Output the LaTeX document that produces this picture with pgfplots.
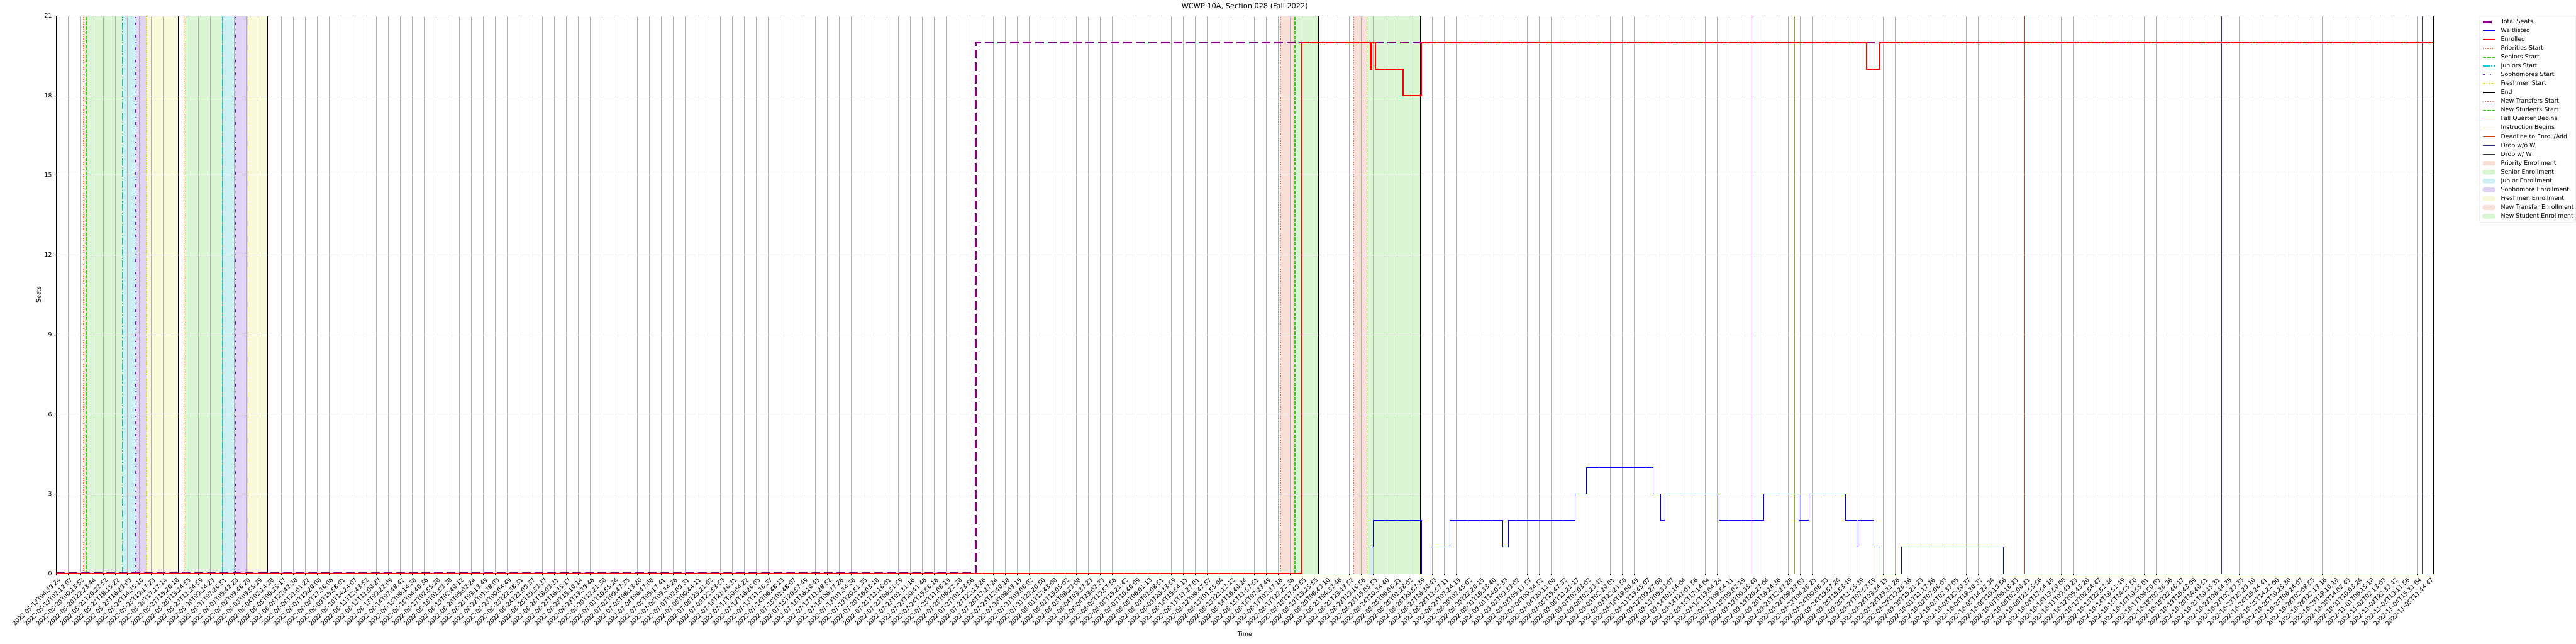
\documentclass[border=0pt]{standalone}
\usepackage{fontspec}
\setmainfont{DejaVu Sans}
\usepackage{pgfplots}
\pgfplotsset{compat=1.18}
\definecolor{cseat}{HTML}{800080}
\definecolor{cwait}{HTML}{0000FF}
\definecolor{cenr}{HTML}{FF0000}
\definecolor{cprio}{HTML}{F26B3A}
\definecolor{csen}{HTML}{33CC11}
\definecolor{cjun}{HTML}{00C8D8}
\definecolor{csoph}{HTML}{6A1FD0}
\definecolor{cfresh}{HTML}{E0E030}
\definecolor{cfall}{HTML}{E0109A}
\definecolor{cinstr}{HTML}{8DB010}
\definecolor{cdead}{HTML}{D4401C}
\definecolor{cdropa}{HTML}{2E2A8A}
\definecolor{cdropb}{HTML}{2F3B5A}
\definecolor{fprio}{HTML}{F8E0D8}
\definecolor{fsen}{HTML}{D9F5D2}
\definecolor{fjun}{HTML}{CDF1F3}
\definecolor{fsoph}{HTML}{DFD2F4}
\definecolor{ffresh}{HTML}{F7F9D9}
\definecolor{gridgray}{HTML}{B0B0B0}
\pgfplotsset{
  lprio/.style={cprio, line width=1.5pt, dash pattern=on 1.5pt off 2.5pt},
  lsen/.style={csen, line width=1.5pt, dash pattern=on 5.5pt off 2.4pt},
  ljun/.style={cjun, line width=1.8pt, dash pattern=on 11.5pt off 2.9pt on 1.8pt off 2.9pt},
  lsoph/.style={csoph, line width=1.5pt, dash pattern=on 4.5pt off 7.5pt on 1.5pt off 7.5pt},
  lfresh/.style={cfresh, line width=1.5pt, dash pattern=on 4.5pt off 2pt on 1.5pt off 2pt on 1.5pt off 2pt},
  lend/.style={black, line width=1.5pt},
  lfall/.style={cfall, line width=1.5pt},
  linstr/.style={cinstr, line width=1.5pt},
  ldead/.style={cdead, line width=1.5pt},
  ldropa/.style={cdropa, line width=1.5pt},
  ldropb/.style={cdropb, line width=1.5pt},
  myarea/.style={legend image code/.code={\draw[##1] (0pt,-3.6pt) rectangle (21pt,3.6pt); \path (28.5pt,0pt);}},
}
\newcommand{\vl}[2]{\addplot[#1, forget plot] coordinates {(#2,0) (#2,21)};}
\newcommand{\band}[3]{\addplot[on layer=axis background, fill=#1, draw=none, forget plot] coordinates {(#2,21) (#3,21)} \closedcycle;}
\begin{document}
\begin{tikzpicture}
\path (0,0) rectangle (4336.2pt,1084.05pt);
\begin{axis}[
  set layers,
  at={(94.67pt,117.8pt)}, anchor=south west,
  scale only axis, width=4004.5pt, height=939.5pt,
  xmin=0, xmax=200.35, ymin=0, ymax=21,
  xtick pos=bottom, ytick pos=left,
  xtick={0,...,200},
  xticklabels={2022-05-18T04:39:24,2022-05-19T02:12:07,2022-05-20T00:13:52,2022-05-20T22:23:44,2022-05-21T20:22:52,2022-05-22T18:15:22,2022-05-23T16:29:03,2022-05-24T14:35:10,2022-05-25T19:17:23,2022-05-26T17:17:14,2022-05-27T15:20:18,2022-05-28T13:24:55,2022-05-29T11:24:59,2022-05-30T09:24:23,2022-05-31T07:26:51,2022-06-01T05:42:23,2022-06-02T03:46:20,2022-06-03T03:55:29,2022-06-04T02:14:28,2022-06-05T00:25:17,2022-06-05T22:42:38,2022-06-06T21:01:22,2022-06-07T19:20:08,2022-06-08T17:36:06,2022-06-09T15:58:01,2022-06-10T14:24:07,2022-06-11T12:43:52,2022-06-12T11:00:27,2022-06-13T09:22:09,2022-06-14T07:48:42,2022-06-15T06:14:38,2022-06-16T04:40:36,2022-06-17T02:55:28,2022-06-18T01:59:28,2022-06-19T02:40:12,2022-06-20T05:02:24,2022-06-21T03:13:49,2022-06-22T01:38:03,2022-06-23T00:04:49,2022-06-23T22:38:31,2022-06-24T21:09:37,2022-06-25T19:39:37,2022-06-26T18:09:31,2022-06-27T16:35:17,2022-06-28T15:10:14,2022-06-29T13:39:46,2022-06-30T12:21:38,2022-07-01T10:55:24,2022-07-02T09:47:35,2022-07-03T08:13:20,2022-07-04T06:47:08,2022-07-05T05:17:41,2022-07-06T03:34:26,2022-07-07T02:09:31,2022-07-08T00:44:11,2022-07-08T23:21:02,2022-07-09T22:53:53,2022-07-10T21:26:31,2022-07-11T20:04:22,2022-07-12T16:26:05,2022-07-13T11:36:37,2022-07-14T06:48:13,2022-07-15T01:48:07,2022-07-15T20:57:49,2022-07-16T16:10:45,2022-07-17T11:28:52,2022-07-18T06:37:26,2022-07-19T01:34:38,2022-07-19T20:51:35,2022-07-20T16:03:18,2022-07-21T11:16:01,2022-07-22T06:31:59,2022-07-23T01:31:16,2022-07-23T20:41:46,2022-07-24T15:56:16,2022-07-25T11:08:19,2022-07-26T06:22:28,2022-07-27T01:23:56,2022-07-27T22:13:26,2022-07-28T17:27:24,2022-07-29T12:40:18,2022-07-30T08:03:19,2022-07-31T03:06:02,2022-07-31T22:20:50,2022-08-01T17:43:08,2022-08-02T13:05:02,2022-08-03T08:29:08,2022-08-04T03:37:23,2022-08-04T23:02:33,2022-08-05T19:57:56,2022-08-06T15:21:42,2022-08-07T10:40:09,2022-08-08T06:01:13,2022-08-09T01:08:51,2022-08-09T20:33:59,2022-08-10T15:54:15,2022-08-11T11:27:01,2022-08-12T06:47:57,2022-08-13T01:55:04,2022-08-13T21:12:12,2022-08-14T16:40:24,2022-08-15T11:57:51,2022-08-16T07:23:49,2022-08-17T02:37:16,2022-08-17T22:22:36,2022-08-18T17:49:55,2022-08-19T13:25:55,2022-08-20T08:49:10,2022-08-21T04:32:46,2022-08-21T23:43:52,2022-08-22T19:16:56,2022-08-23T15:05:55,2022-08-24T10:34:40,2022-08-25T06:06:21,2022-08-26T01:28:02,2022-08-26T20:57:39,2022-08-27T16:30:43,2022-08-28T11:57:11,2022-08-29T07:24:19,2022-08-30T02:45:02,2022-08-30T22:20:15,2022-08-31T18:33:40,2022-09-01T14:02:33,2022-09-02T09:39:02,2022-09-03T05:11:57,2022-09-04T00:34:52,2022-09-04T20:11:00,2022-09-05T15:47:32,2022-09-06T11:21:17,2022-09-07T07:03:02,2022-09-08T02:29:42,2022-09-09T02:20:01,2022-09-09T22:21:50,2022-09-10T18:00:49,2022-09-11T13:45:07,2022-09-12T09:27:08,2022-09-13T05:39:07,2022-09-14T01:14:04,2022-09-14T21:01:56,2022-09-15T17:14:04,2022-09-16T13:04:24,2022-09-17T08:54:11,2022-09-18T05:02:19,2022-09-19T00:35:48,2022-09-19T20:27:04,2022-09-20T16:24:36,2022-09-21T12:22:28,2022-09-22T08:22:03,2022-09-23T04:28:25,2022-09-24T00:08:33,2022-09-24T19:57:24,2022-09-25T15:53:49,2022-09-26T11:55:39,2022-09-27T07:52:59,2022-09-28T03:34:15,2022-09-28T23:31:26,2022-09-29T19:26:16,2022-09-30T15:21:23,2022-10-01T11:17:26,2022-10-02T07:06:03,2022-10-03T02:39:05,2022-10-03T22:30:37,2022-10-04T18:30:32,2022-10-05T14:22:34,2022-10-06T10:19:56,2022-10-07T06:18:23,2022-10-08T02:00:21,2022-10-08T21:55:56,2022-10-09T17:54:18,2022-10-10T13:50:08,2022-10-11T09:49:23,2022-10-12T05:43:20,2022-10-13T02:54:47,2022-10-13T22:52:44,2022-10-14T18:51:49,2022-10-15T14:55:50,2022-10-16T10:55:01,2022-10-17T06:50:05,2022-10-18T02:36:36,2022-10-18T22:46:17,2022-10-19T18:43:09,2022-10-20T14:40:51,2022-10-21T10:45:31,2022-10-22T06:44:39,2022-10-23T02:29:33,2022-10-23T22:29:10,2022-10-24T18:24:41,2022-10-25T14:22:00,2022-10-26T10:25:30,2022-10-27T06:24:07,2022-10-28T02:08:53,2022-10-28T22:13:16,2022-10-29T18:10:18,2022-10-30T14:02:45,2022-10-31T10:03:24,2022-11-01T06:15:18,2022-11-02T02:13:03,2022-11-02T22:39:42,2022-11-03T19:11:56,2022-11-04T15:31:04,2022-11-05T11:44:47},
  ytick={0,3,...,21},
  grid=major, grid style={color=gridgray, line width=0.8pt},
  tick align=outside, major tick length=3.5pt,
  tick style={black, line width=0.8pt},
  axis line style={black, line width=0.8pt},
  x tick label style={rotate=45, anchor=north east, font=\fontsize{10}{12}\selectfont, inner sep=0pt, yshift=-3.5pt},
  y tick label style={font=\fontsize{10}{12}\selectfont, inner sep=0pt, xshift=-3.5pt},
  yticklabel style={/pgf/number format/assume math mode=true},
  xlabel={Time}, ylabel={Seats},
  xlabel style={at={(axis description cs:0.5,-0.1077)}, anchor=center, font=\fontsize{10}{12}\selectfont},
  ylabel style={at={(axis description cs:-0.0074,0.5)}, anchor=center, font=\fontsize{10}{12}\selectfont},
  title={WCWP 10A, Section 028 (Fall 2022)},
  title style={at={(axis description cs:0.5,1)}, anchor=base, yshift=6pt, font=\fontsize{12}{14}\selectfont},
  legend image code/.code={\draw[#1] (0pt,0pt) -- (21pt,0pt); \path (28.5pt,0pt);},
  legend style={at={(axis description cs:1.0194,1)}, anchor=north west, draw=black!18, fill=white, rounded corners=2pt,
    font=\fontsize{10}{12}\selectfont, inner xsep=3.5pt, inner ysep=5pt, row sep=5.4pt,
    nodes={inner sep=0pt, text height=7.5pt, text depth=2pt}},
  legend cell align=left,
]
% legend entries
\addlegendimage{cseat, line width=4pt, dash pattern=on 14.8pt off 6.4pt}\addlegendentry{Total Seats}
\addlegendimage{cwait, line width=1pt}\addlegendentry{Waitlisted}
\addlegendimage{cenr, line width=2pt}\addlegendentry{Enrolled}
\addlegendimage{lprio}\addlegendentry{Priorities Start}
\addlegendimage{lsen}\addlegendentry{Seniors Start}
\addlegendimage{ljun}\addlegendentry{Juniors Start}
\addlegendimage{lsoph}\addlegendentry{Sophomores Start}
\addlegendimage{lfresh}\addlegendentry{Freshmen Start}
\addlegendimage{lend}\addlegendentry{End}
\addlegendimage{lprio}\addlegendentry{New Transfers Start}
\addlegendimage{lsen}\addlegendentry{New Students Start}
\addlegendimage{lfall}\addlegendentry{Fall Quarter Begins}
\addlegendimage{linstr}\addlegendentry{Instruction Begins}
\addlegendimage{ldead}\addlegendentry{Deadline to Enroll/Add}
\addlegendimage{ldropa}\addlegendentry{Drop w/o W}
\addlegendimage{ldropb}\addlegendentry{Drop w/ W}
\addlegendimage{myarea, fill=fprio, draw=cprio!30}\addlegendentry{Priority Enrollment}
\addlegendimage{myarea, fill=fsen, draw=csen!30}\addlegendentry{Senior Enrollment}
\addlegendimage{myarea, fill=fjun, draw=cjun!30}\addlegendentry{Junior Enrollment}
\addlegendimage{myarea, fill=fsoph, draw=csoph!30}\addlegendentry{Sophomore Enrollment}
\addlegendimage{myarea, fill=ffresh, draw=cfresh!30}\addlegendentry{Freshmen Enrollment}
\addlegendimage{myarea, fill=fprio, draw=cprio!30}\addlegendentry{New Transfer Enrollment}
\addlegendimage{myarea, fill=fsen, draw=csen!30}\addlegendentry{New Student Enrollment}
% shaded periods
\band{fprio}{2.32}{2.52}
\band{fsen}{2.52}{5.58}
\band{fjun}{5.58}{6.71}
\band{fsoph}{6.71}{7.61}
\band{ffresh}{7.61}{10.29}
\band{fprio}{10.76}{10.94}
\band{fsen}{10.94}{14.0}
\band{fjun}{14.0}{15.1}
\band{fsoph}{15.1}{16.18}
\band{ffresh}{16.18}{17.79}
\band{fprio}{103.2}{104.4}
\band{fsen}{104.4}{106.4}
\band{fprio}{109.35}{110.57}
\band{fsen}{110.57}{115.0}
% vertical markers
\vl{lprio}{2.32}
\vl{lsen}{2.52}
\vl{ljun}{5.58}
\vl{lsoph}{6.71}
\vl{lfresh}{7.61}
\vl{lend}{10.29}
\vl{lprio}{10.76}
\vl{lsen}{10.94}
\vl{ljun}{14.0}
\vl{lsoph}{15.1}
\vl{lfresh}{16.18}
\vl{lend}{17.79}
\vl{lprio}{103.2}
\vl{lsen}{104.4}
\vl{lend}{106.4}
\vl{lprio}{109.35}
\vl{lsen}{110.57}
\vl{lend}{115.0}
\vl{lfall}{142.9}
\vl{linstr}{146.5}
\vl{ldead}{165.9}
\vl{ldropa}{182.5}
\vl{ldropb}{199.4}
% total seats
\addplot[cseat, line width=4pt, dash pattern=on 14.8pt off 6.4pt, forget plot] coordinates {(0,0) (77.5,0) (77.5,20) (200.35,20)};
% enrolled
\addplot[cenr, line width=2pt, forget plot] coordinates {(0,0) (105.0,0) (105.0,20) (110.75,20) (110.75,19) (110.85,19) (110.85,20) (111.2,20) (111.2,19) (113.5,19) (113.5,18) (115.05,18) (115.05,20) (152.6,20) (152.6,19) (153.7,19) (153.7,20) (200.35,20)};
% waitlisted
\addplot[cwait, line width=1pt, forget plot] coordinates {(103.2,0) (110.9,0) (110.9,1) (111.0,1) (111.0,2) (115.1,2) (115.1,0) (115.9,0) (115.9,1) (117.45,1) (117.45,2) (121.9,2) (121.9,1) (122.4,1) (122.4,2) (128.0,2) (128.0,3) (128.95,3) (128.95,4) (134.6,4) (134.6,3) (135.2,3) (135.2,2) (135.6,2) (135.6,3) (140.15,3) (140.15,2) (143.9,2) (143.9,3) (146.9,3) (146.9,2) (147.75,2) (147.75,3) (150.8,3) (150.8,2) (151.75,2) (151.75,1) (151.85,1) (151.85,2) (153.2,2) (153.2,1) (153.7,1) (153.7,0) (155.5,0) (155.5,1) (164.1,1) (164.1,0) (200.35,0)};
\end{axis}
\end{tikzpicture}
\end{document}
